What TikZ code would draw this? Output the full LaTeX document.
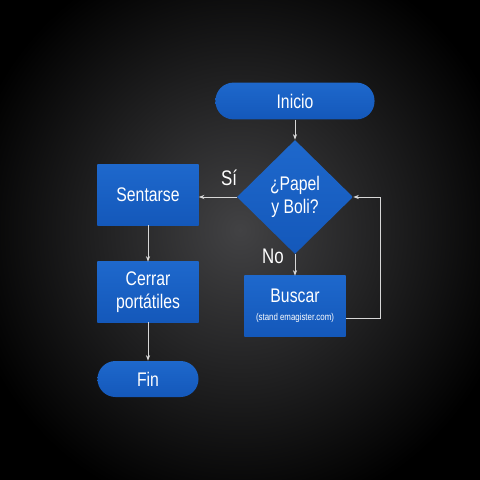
\documentclass[tikz,border=0pt]{standalone}
\usepackage{fontspec}
\setmainfont[FakeStretch=0.8]{Liberation Sans}
\usetikzlibrary{shapes.geometric,arrows.meta,positioning}
\definecolor{boxBlue}{RGB}{20,88,186}
\definecolor{boxBlueTop}{RGB}{30,104,204}
\definecolor{lineGray}{RGB}{215,215,215}
\definecolor{bgIn}{RGB}{66,66,68}
\tikzset{%
  stepbox/.style={rectangle, top color=boxBlueTop, bottom color=boxBlue,
    text=white, align=center, minimum width=2.525cm, minimum height=1.5cm, inner sep=1pt, font=\fontsize{14}{16}\selectfont},%
  pill/.style={stepbox, rounded corners=0.45cm, minimum height=0.92cm},%
  question/.style={stepbox, diamond, aspect=1, minimum width=2.9cm, minimum height=2.85cm, inner sep=0pt},%
  link/.style={draw=lineGray, line width=0.6pt, -{Stealth[length=4pt,width=3pt]}},%
  answer/.style={text=white, font=\fontsize{15}{17}\selectfont, inner sep=0pt}%
}
\begin{document}
\begin{tikzpicture}[x=0.025cm,y=-0.025cm]%
\useasboundingbox (0,0) rectangle (480,480);%
\clip (0,0) rectangle (480,480);%
\shade[inner color=bgIn, outer color=black] (-40,-60) rectangle (520,520);%
%
\node[pill, minimum width=3.975cm] (inicio) at (295,101) {Inicio};%
\node[question] (pregunta) at (295,197) {¿Papel\\y Boli?};%
\node[stepbox] (sentarse) at (148,195) {Sentarse};%
\node[stepbox] (cerrar) at (148,292) {Cerrar\\portátiles};%
\node[pill, minimum width=2.525cm, minimum height=0.9cm] (fin) at (148,379) {Fin};%
\node[stepbox] (buscar) at (295,306) {Buscar\\[-3pt]{\fontsize{7}{8}\selectfont (stand emagister.com)}};%
%
\node[answer] (si) at (229,178) {Sí};%
\node[answer] (no) at (273,256) {No};%
%
\draw[link] (inicio) -- (pregunta);%
\draw[link] (pregunta.west) -- (sentarse.east |- pregunta.west);%
\draw[link] (sentarse) -- (cerrar);%
\draw[link] (cerrar) -- (fin);%
\draw[link] (pregunta.south) -- (buscar);%
\draw[link] ([yshift=-0.3cm]buscar.east) -- ++(0.875cm,0) |- (pregunta.east);%
%
\end{tikzpicture}
\end{document}
